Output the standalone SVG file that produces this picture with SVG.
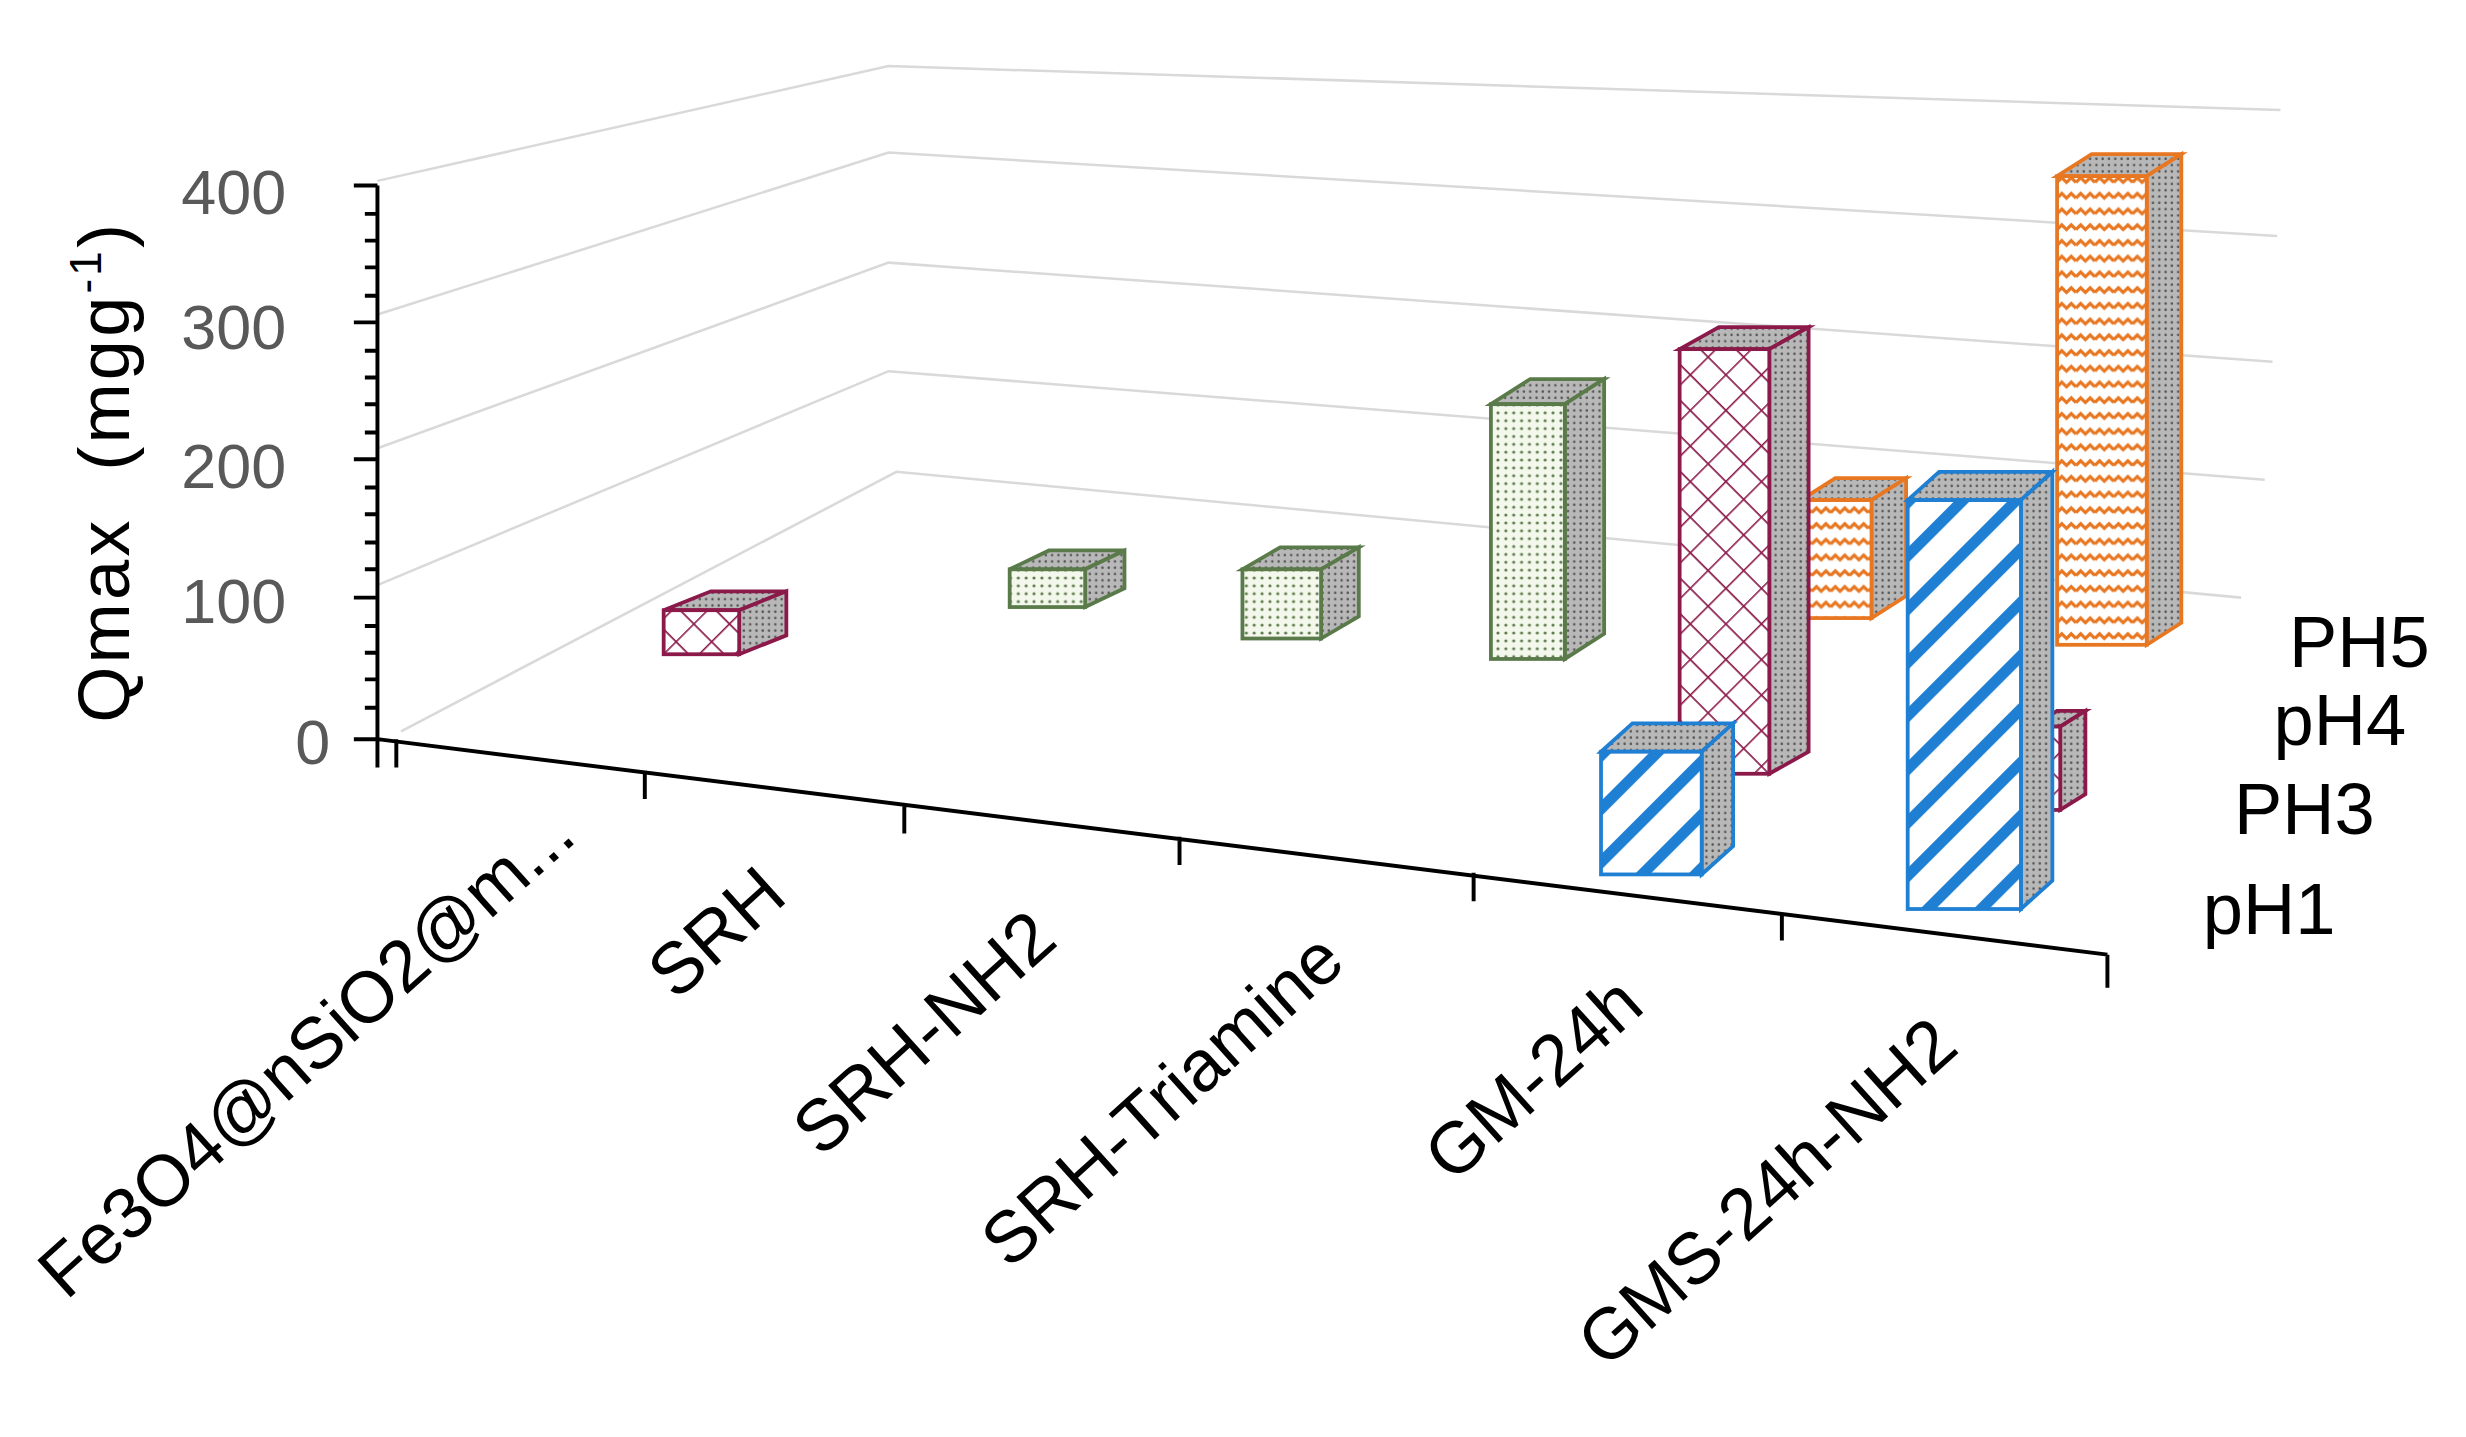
<svg xmlns="http://www.w3.org/2000/svg" width="2466" height="1437" viewBox="0 0 2466 1437">
<style>
.grid{stroke:#d9d9d9;stroke-width:1.6;fill:none}
.ax{stroke:#000;stroke-width:2.5;fill:none}
.tk{font-family:"Liberation Sans",Arial,sans-serif;font-size:40px;fill:#595959}
.lab{font-family:"Liberation Sans",Arial,sans-serif;font-size:46px;fill:#000}
.b{stroke-width:2.4}
</style>
<defs>
<pattern id="pBlue" width="24" height="24" patternUnits="userSpaceOnUse" patternTransform="rotate(45)"><rect width="24" height="24" fill="#fff"/><rect width="7" height="24" fill="#1f7fd2"/></pattern>
<pattern id="pMar" width="16" height="16" patternUnits="userSpaceOnUse" patternTransform="rotate(45)"><rect width="16" height="16" fill="#fff"/><path d="M0 0H16M0 0V16" stroke="#8b1a4a" stroke-width="2"/></pattern>
<pattern id="pOr" width="12" height="10" patternUnits="userSpaceOnUse"><rect width="12" height="10" fill="#fff"/><path d="M0 6L3 3L6 6L9 3L12 6" stroke="#e87722" stroke-width="2" fill="none"/></pattern>
<pattern id="pGr" width="5" height="5" patternUnits="userSpaceOnUse"><rect width="5" height="5" fill="#f4f8ec"/><circle cx="2.5" cy="2.5" r="1" fill="#5a7a4a"/></pattern>
<pattern id="pSide" width="4" height="4" patternUnits="userSpaceOnUse"><rect width="4" height="4" fill="#b8b8b8"/><circle cx="1" cy="1" r="0.8" fill="#555"/></pattern>
</defs>
<g transform="scale(1.5727)">
<g id="grid">
<polyline class="grid" points="240,115 565,42 1450,70"/>
<polyline class="grid" points="240,200 565,97 1448,150"/>
<polyline class="grid" points="240,285 565,167 1445,230"/>
<polyline class="grid" points="240,372 565,236 1440,305"/>
<polyline class="grid" points="255,465 570,300 1425,380"/>
</g>
<g id="axes">
<path class="ax" d="M240 118V488M240 470L1340 607M252 470V488M410 490V508M575 512V530M750 532V550M937 555V573M1133 580V598M1340 607V628"/>
<path class="ax" stroke-width="2" d="M225 118H240M225 205H240M225 292H240M225 380H240M225 470H240M232 136H240M232 153H240M232 170H240M232 188H240M232 223H240M232 240H240M232 257H240M232 275H240M232 310H240M232 327H240M232 345H240M232 362H240M232 398H240M232 415H240M232 432H240M232 450H240"/>
<text class="tk" x="182" y="136" text-anchor="end">400</text>
<text class="tk" x="182" y="222" text-anchor="end">300</text>
<text class="tk" x="182" y="310" text-anchor="end">200</text>
<text class="tk" x="182" y="396" text-anchor="end">100</text>
<text class="tk" x="210" y="486" text-anchor="end">0</text>
<text class="lab" font-size="48" letter-spacing="2" transform="translate(82,300) rotate(-90)" text-anchor="middle" xml:space="preserve">Qmax  (mgg<tspan font-size="28" dy="-18">-1</tspan><tspan dy="18">)</tspan></text>
</g>
<g id="xlabels" class="lab">
<text transform="translate(368,534) rotate(-42)" text-anchor="end">Fe3O4@nSiO2@m...</text>
<text transform="translate(502,572) rotate(-42)" text-anchor="end">SRH</text>
<text transform="translate(674,600) rotate(-42)" text-anchor="end">SRH-NH2</text>
<text transform="translate(857,614) rotate(-42)" text-anchor="end">SRH-Triamine</text>
<text transform="translate(1047,642) rotate(-42)" text-anchor="end">GM-24h</text>
<text transform="translate(1247,668) rotate(-42)" text-anchor="end">GMS-24h-NH2</text>
</g>
<g id="legend" class="lab" font-size="44">
<text x="1545" y="424" text-anchor="end">PH5</text>
<text x="1530" y="474" text-anchor="end">pH4</text>
<text x="1510" y="530" text-anchor="end">PH3</text>
<text x="1485" y="594" text-anchor="end">pH1</text>
</g>
<g id="bar-GM-pH5" class="b" stroke="#e87722"><polygon points="1145,318 1167,304 1212,304 1190,318" fill="url(#pSide)"/><polygon points="1190,318 1212,304 1212,379 1190,393" fill="url(#pSide)"/><rect x="1145" y="318" width="45" height="75" fill="url(#pOr)"/></g>
<g id="bar-GMS-pH5" class="b" stroke="#e87722"><polygon points="1308,112 1330,98 1387,98 1365,112" fill="url(#pSide)"/><polygon points="1365,112 1387,98 1387,396 1365,410" fill="url(#pSide)"/><rect x="1308" y="112" width="57" height="298" fill="url(#pOr)"/></g>
<g id="bar-NH2-pH4" class="b" stroke="#5a7a4a"><polygon points="642,362 667,350 715,350 690,362" fill="url(#pSide)"/><polygon points="690,362 715,350 715,374 690,386" fill="url(#pSide)"/><rect x="642" y="362" width="48" height="24" fill="url(#pGr)"/></g>
<g id="bar-Tri-pH4" class="b" stroke="#5a7a4a"><polygon points="790,362 814,348 864,348 840,362" fill="url(#pSide)"/><polygon points="840,362 864,348 864,392 840,406" fill="url(#pSide)"/><rect x="790" y="362" width="50" height="44" fill="url(#pGr)"/></g>
<g id="bar-GM-pH4" class="b" stroke="#5a7a4a"><polygon points="948,257 973,241 1020,241 995,257" fill="url(#pSide)"/><polygon points="995,257 1020,241 1020,403 995,419" fill="url(#pSide)"/><rect x="948" y="257" width="47" height="162" fill="url(#pGr)"/></g>
<g id="bar-Fe-pH3" class="b" stroke="#8b1a4a"><polygon points="422,388 452,376 500,376 470,388" fill="url(#pSide)"/><polygon points="470,388 500,376 500,404 470,416" fill="url(#pSide)"/><rect x="422" y="388" width="48" height="28" fill="url(#pMar)"/></g>
<g id="bar-GM-pH3" class="b" stroke="#8b1a4a"><polygon points="1068,222 1093,208 1150,208 1125,222" fill="url(#pSide)"/><polygon points="1125,222 1150,208 1150,478 1125,492" fill="url(#pSide)"/><rect x="1068" y="222" width="57" height="270" fill="url(#pMar)"/></g>
<g id="bar-GMS-pH3" class="b" stroke="#8b1a4a"><polygon points="1292,462 1308,452 1326,452 1310,462" fill="url(#pSide)"/><polygon points="1310,462 1326,452 1326,505 1310,515" fill="url(#pSide)"/><rect x="1292" y="462" width="18" height="53" fill="url(#pMar)"/></g>
<g id="bar-GM-pH1" class="b" stroke="#1f7fd2" stroke-width="3"><polygon points="1018,478 1038,460 1102,460 1082,478" fill="url(#pSide)"/><polygon points="1082,478 1102,460 1102,538 1082,556" fill="url(#pSide)"/><rect x="1018" y="478" width="64" height="78" fill="url(#pBlue)"/></g>
<g id="bar-GMS-pH1" class="b" stroke="#1f7fd2" stroke-width="3"><polygon points="1213,318 1233,300 1305,300 1285,318" fill="url(#pSide)"/><polygon points="1285,318 1305,300 1305,560 1285,578" fill="url(#pSide)"/><rect x="1213" y="318" width="72" height="260" fill="url(#pBlue)"/></g>
</g>
</svg>
